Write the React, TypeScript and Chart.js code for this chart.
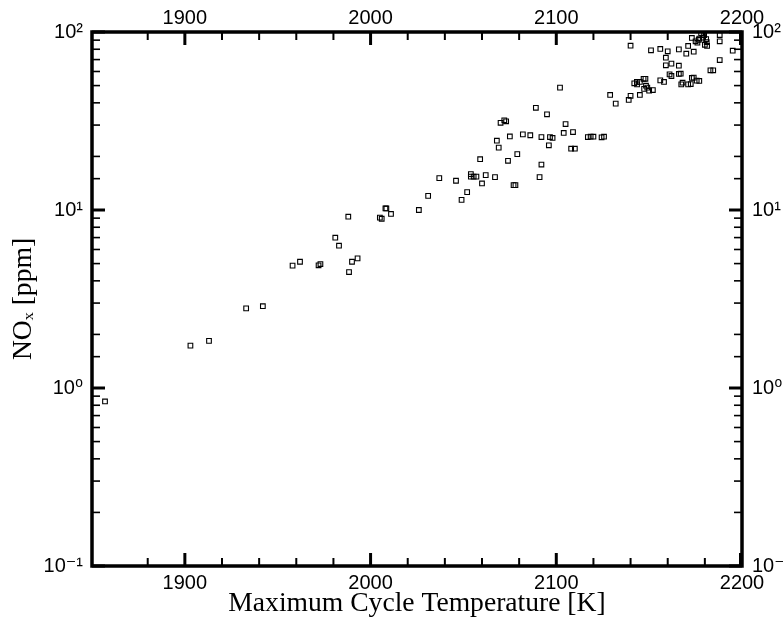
import React, { useEffect, useRef } from "react";
import { Chart, registerables } from "chart.js";

Chart.register(...registerables);

// Maximum cycle temperature [K]
const tempK: number[] = [
  1857, 1903, 1913, 1933, 1942, 1958, 1962, 1972, 1973, 1981,
  1983, 1988.4, 1990, 1993, 1988, 2005, 2006, 2008, 2008.5, 2011,
  2026, 2031, 2037, 2046, 2049, 2052, 2054, 2054, 2055.5, 2057,
  2059, 2060, 2062, 2067, 2068, 2069, 2070, 2072, 2073, 2074,
  2075, 2077, 2078, 2079, 2082, 2086, 2089, 2091, 2092, 2092,
  2095, 2096, 2096.6, 2098, 2102, 2104, 2105, 2108, 2110, 2109,
  2117, 2118.5, 2120, 2124.4, 2125.7, 2129, 2132, 2139, 2140, 2140,
  2142, 2143.4, 2145, 2143.5, 2145, 2147, 2148, 2147.3, 2148.3, 2149,
  2150, 2151, 2152, 2156, 2156, 2158, 2159, 2159, 2160, 2161,
  2162, 2162, 2166, 2166, 2166, 2167, 2168, 2167.3, 2170, 2171,
  2171, 2172.4, 2173, 2173, 2174, 2174, 2175, 2175.6, 2176, 2176.7,
  2177, 2177, 2178, 2179, 2179.6, 2180, 2180.7, 2181, 2181.2, 2183,
  2184.5, 2188, 2188, 2188, 2195,
];

// NOx [ppm]
const noxPpm: number[] = [
  0.84, 1.73, 1.84, 2.8, 2.88, 4.87, 5.12, 4.89, 4.97, 6.99,
  6.3, 4.48, 5.12, 5.35, 9.17, 9.06, 8.93, 10.2, 10.2, 9.5,
  10.0, 12.0, 15.1, 14.6, 11.4, 12.6, 15.9, 15.4, 15.4, 15.4,
  19.3, 14.1, 15.7, 15.3, 24.5, 22.4, 30.9, 31.9, 31.5, 18.9,
  25.9, 13.8, 13.8, 20.6, 26.6, 26.3, 37.5, 15.3, 18.0, 25.7,
  34.5, 23.1, 25.7, 25.4, 48.7, 27.1, 30.4, 22.1, 22.1, 27.4,
  25.7, 25.8, 25.8, 25.6, 25.8, 44.3, 39.6, 41.5, 43.8, 83.8,
  51.5, 52.4, 52.4, 50.8, 44.3, 54.6, 54.6, 47.9, 49.9, 48.7,
  46.8, 78.9, 47.2, 80.3, 53.5, 52.4, 71.7, 65.0, 77.9, 57.8,
  56.6, 66.4, 79.9, 64.7, 58.1, 58.3, 51.9, 50.8, 75.5, 83.5,
  50.8, 51.0, 92.6, 55.2, 55.4, 77.5, 88.7, 53.3, 87.1, 90.2,
  91.8, 53.1, 98.4, 93.0, 96.2, 84.8, 91.3, 87.7, 83.5, 60.9,
  60.9, 96.2, 88.7, 69.6, 78.5,
];

const xMin = 1850;
const xMax = 2200;
const xStep = 20;
const xLabelEvery = 100;
const yMin = 0.1;
const yMax = 100;

const xTitle = "Maximum Cycle Temperature [K]";
const yTitle = "NO\u2093 [ppm]";

const SUP: Record<string, string> = {
  "-": "\u207B", "0": "\u2070", "1": "\u00B9", "2": "\u00B2", "3": "\u00B3",
  "4": "\u2074", "5": "\u2075", "6": "\u2076", "7": "\u2077", "8": "\u2078", "9": "\u2079",
};

const isPow10 = (v: number) => {
  const l = Math.log10(v);
  return Math.abs(l - Math.round(l)) < 1e-9;
};

const yLabel = (v: number) => {
  if (!isPow10(v)) return "";
  const e = String(Math.round(Math.log10(v)));
  return "10" + e.split("").map((c) => SUP[c] || c).join("");
};

const xLabel = (v: number) => (Math.round(v) % xLabelEvery === 0 ? String(v) : "");

const tickFont = { family: "'Liberation Sans', Arial, 'DejaVu Sans', sans-serif", size: 20 };
const titleFont = { family: "'Liberation Serif', 'Times New Roman', 'DejaVu Serif', serif", size: 27.6 };

const framePlugin = {
  id: "frameTicks",
  afterDraw(chart: any) {
    const { ctx, chartArea, scales } = chart;
    const { left, right, top, bottom } = chartArea;
    ctx.save();
    ctx.strokeStyle = "#000";
    ctx.lineCap = "butt";
    const seg = (x1: number, y1: number, x2: number, y2: number) => {
      ctx.beginPath();
      ctx.moveTo(x1, y1);
      ctx.lineTo(x2, y2);
      ctx.stroke();
    };
    const xs = scales.x;
    for (const t of xs.ticks) {
      const v = t.value;
      if (Math.round(v) % xStep !== 0 || v <= xMin || v >= xMax) continue;
      const px = xs.getPixelForValue(v);
      const major = Math.round(v) % xLabelEvery === 0;
      const len = major ? 13 : 8;
      ctx.lineWidth = major ? 3 : 2;
      seg(px, bottom, px, bottom - len);
      seg(px, top, px, top + len);
    }
    const ys = scales.y;
    for (const t of ys.ticks) {
      const v = t.value;
      if (v < yMin || v > yMax) continue;
      const py = ys.getPixelForValue(v);
      const major = isPow10(v);
      const len = major ? 13 : 8;
      ctx.lineWidth = major ? 3 : 1.6;
      seg(left, py, left + len, py);
      seg(right, py, right - len, py);
    }
    ctx.lineWidth = 3;
    const pr = xs.getPixelForValue(xMax);
    seg(pr - 1.5, bottom, pr - 1.5, bottom - 13);
    seg(pr - 1.5, top, pr - 1.5, top + 13);
    ctx.lineWidth = 3.5;
    ctx.strokeRect(left, top, right - left, bottom - top);
    ctx.restore();
  },
};

export default function App() {
  const canvasRef = useRef<HTMLCanvasElement | null>(null);

  useEffect(() => {
    if (!canvasRef.current) return;
    const points = tempK.map((t, i) => ({ x: t, y: noxPpm[i] }));
    const xCommon = (position: "bottom" | "top", height: number, withTitle: boolean, pad: number) => ({
      type: "linear" as const,
      position,
      min: xMin,
      max: xMax,
      grid: { display: false, drawTicks: false },
      border: { display: false },
      ticks: {
        stepSize: xStep,
        autoSkip: false,
        maxRotation: 0,
        minRotation: 0,
        padding: pad,
        color: "#000",
        font: tickFont,
        callback: (v: any) => xLabel(Number(v)),
      },
      title: withTitle
        ? { display: true, text: xTitle, color: "#000", font: titleFont, padding: { top: 0, bottom: 1 } }
        : { display: false },
      afterFit: (s: any) => {
        s.height = height;
      },
    });
    const yCommon = (position: "left" | "right", width: number, withTitle: boolean, pad: number) => ({
      type: "logarithmic" as const,
      position,
      min: yMin,
      max: yMax,
      grid: { display: false, drawTicks: false },
      border: { display: false },
      ticks: {
        autoSkip: false,
        padding: pad,
        color: "#000",
        font: tickFont,
        callback: (v: any) => yLabel(Number(v)),
      },
      title: withTitle
        ? { display: true, text: yTitle, color: "#000", font: titleFont, padding: { top: 7, bottom: 0 } }
        : { display: false },
      afterFit: (s: any) => {
        s.width = width;
      },
    });

    const chart = new Chart(canvasRef.current, {
      type: "scatter",
      data: {
        datasets: [
          {
            data: points,
            xAxisID: "x",
            yAxisID: "y",
            pointStyle: "rect",
            pointRadius: 3.3,
            pointHoverRadius: 3.3,
            pointBorderWidth: 1.1,
            pointBorderColor: "#000",
            pointBackgroundColor: "rgba(0,0,0,0)",
            showLine: false,
          },
        ],
      },
      options: {
        responsive: false,
        animation: false,
        layout: { padding: 0 },
        plugins: { legend: { display: false }, tooltip: { enabled: false } },
        scales: {
          x: xCommon("bottom", 55, true, 5),
          x2: xCommon("top", 32, false, 2),
          y: yCommon("left", 92, true, 9),
          y2: yCommon("right", 41, false, 10),
        } as any,
      },
      plugins: [framePlugin],
    });
    return () => chart.destroy();
  }, []);

  return (
    <div style={{ position: "absolute", left: 0, top: 0, width: 783, height: 621, background: "#fff" }}>
      <canvas ref={canvasRef} width={783} height={621} style={{ display: "block" }} />
    </div>
  );
}
